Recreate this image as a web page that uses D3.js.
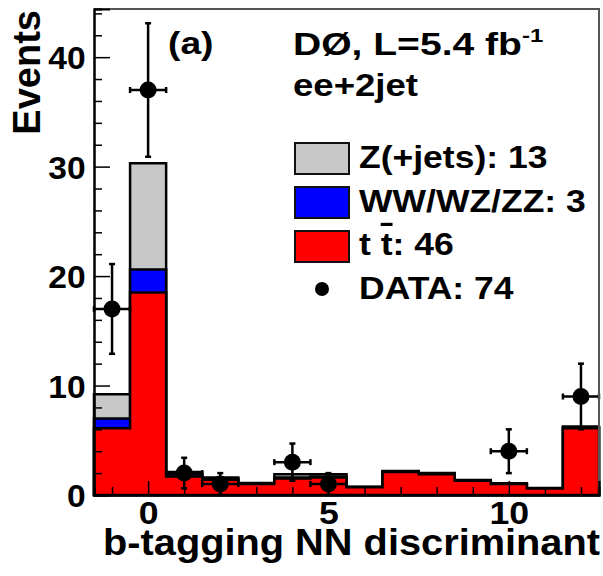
<!DOCTYPE html>
<html>
<head>
<meta charset="utf-8">
<script src="https://cdn.jsdelivr.net/npm/d3@7"></script>
<style>
  body { margin: 0; background: #fff; }
  text { font-family: "Liberation Sans", Arial, sans-serif; font-weight: bold; fill: #000; }
</style>
</head>
<body>
<svg id="chart" width="603" height="576"></svg>
<script>
// bins of the b-tagging NN discriminant (centres)
var binCenters = [-1, 0, 1, 2, 3, 4, 5, 6, 7, 8, 9, 10, 11, 12];
// expected events per bin
var ttbar   = [6.1, 18.5, 1.7, 1.4, 1.0, 1.5, 1.6, 0.7, 2.1, 1.9, 1.3, 1.0, 0.6, 6.1];
var diboson = [0.9, 2.1, 0.2, 0.1, 0.05, 0.1, 0.1, 0.03, 0.05, 0.05, 0.03, 0.03, 0.02, 0.1];
var zjets   = [2.2, 9.7, 0.2, 0.1, 0.05, 0.3, 0.2, 0.03, 0.05, 0.05, 0.03, 0.04, 0.02, 0.05];
// observed
var dataCounts = [17, 37, 2, 1, 0, 3, 1, 0, 0, 0, 0, 4, 0, 9];
var dataErrors = [4.1, 6.1, 1.4, 1.0, 0, 1.7, 1.0, 0, 0, 0, 0, 2.0, 0, 3.0];

var yMajor = [0, 10, 20, 30, 40];
var yMinor = [2, 4, 6, 8, 12, 14, 16, 18, 22, 24, 26, 28, 32, 34, 36, 38, 42, 44];
var xMajor = [0, 5, 10];
var xMinor = [-1, 1, 2, 3, 4, 6, 7, 8, 9, 11, 12];

var legendLabels = ["Z(+jets): 13", "WW/WZ/ZZ: 3", "t t\u0304: 46", "DATA: 74"];
var legendColors = ["#c8c8c8", "#0000ff", "#ff0000"];

var svg = d3.select("#chart"),
    plot = {left: 94, right: 599, top: 9, bottom: 495};

var x = d3.scaleLinear().domain([-1.5, 12.5]).range([plot.left, plot.right]);
var y = d3.scaleLinear().domain([0, 44.4]).range([plot.bottom, plot.top]);

// stacked histograms: total, tt+diboson, tt
var layers = [
  {vals: binCenters.map(function(c, i) { return ttbar[i] + diboson[i] + zjets[i]; }), color: legendColors[0]},
  {vals: binCenters.map(function(c, i) { return ttbar[i] + diboson[i]; }), color: legendColors[1]},
  {vals: ttbar, color: legendColors[2]}
];

function stepPath(vals) {
  var pts = [[binCenters[0] - 0.5, 0]];
  vals.forEach(function(v, i) {
    pts.push([binCenters[i] - 0.5, v]);
    pts.push([binCenters[i] + 0.5, v]);
  });
  pts.push([binCenters[binCenters.length - 1] + 0.5, 0]);
  return d3.line().x(function(d) { return x(d[0]); }).y(function(d) { return y(d[1]); })(pts) + "Z";
}

svg.append("g").selectAll("path")
  .data(layers)
  .enter().append("path")
  .attr("d", function(d) { return stepPath(d.vals); })
  .attr("fill", function(d) { return d.color; })
  .attr("stroke", "#000")
  .attr("stroke-width", 2.5);

// data points with error bars
var pts = binCenters.map(function(c, i) { return {x: c, v: dataCounts[i], e: dataErrors[i]}; })
  .filter(function(d) { return d.v > 0; });

var gd = svg.append("g").attr("stroke", "#000").attr("stroke-width", 2.5);
pts.forEach(function(d) {
  var cx = x(d.x), cy = y(d.v), yt = y(d.v + d.e), yb = y(Math.max(0, d.v - d.e));
  gd.append("line").attr("x1", cx).attr("x2", cx).attr("y1", yt).attr("y2", yb);
  gd.append("line").attr("x1", x(d.x - 0.5)).attr("x2", x(d.x + 0.5)).attr("y1", cy).attr("y2", cy);
  // end caps
  gd.append("line").attr("x1", cx - 3).attr("x2", cx + 3).attr("y1", yt).attr("y2", yt);
  gd.append("line").attr("x1", cx - 3).attr("x2", cx + 3).attr("y1", yb).attr("y2", yb);
  gd.append("line").attr("x1", x(d.x - 0.5)).attr("x2", x(d.x - 0.5)).attr("y1", cy - 3).attr("y2", cy + 3);
  gd.append("line").attr("x1", x(d.x + 0.5)).attr("x2", x(d.x + 0.5)).attr("y1", cy - 3).attr("y2", cy + 3);
  gd.append("circle").attr("cx", cx).attr("cy", cy).attr("r", 8.5).attr("fill", "#000").attr("stroke", "none");
});

// frame
svg.append("path")
  .attr("d", "M" + plot.left + "," + plot.top + "H" + plot.right + "V" + plot.bottom)
  .attr("fill", "none").attr("stroke", "#555").attr("stroke-width", 2);

// axes, ticks pointing inward
var yAx = svg.append("g").attr("transform", "translate(" + plot.left + ",0)")
  .call(d3.axisLeft(y).tickValues(yMajor).tickSize(-16).tickPadding(10).tickFormat(d3.format("d")));
svg.append("g").attr("transform", "translate(" + plot.left + ",0)")
  .call(d3.axisLeft(y).tickValues(yMinor).tickSize(-8).tickFormat(""));
var xAx = svg.append("g").attr("transform", "translate(0," + plot.bottom + ")")
  .call(d3.axisBottom(x).tickValues(xMajor).tickSize(-14).tickPadding(10).tickFormat(d3.format("d")));
svg.append("g").attr("transform", "translate(0," + plot.bottom + ")")
  .call(d3.axisBottom(x).tickValues(xMinor).tickSize(-8).tickFormat(""));

svg.selectAll(".domain").attr("stroke", "#000").attr("stroke-width", 2);
svg.selectAll(".tick line").attr("stroke", "#000").attr("stroke-width", 1.5);
yAx.selectAll("text").style("font-size", "32px").attr("x", -8).attr("dy", "0.36em")
  .attr("transform", "scale(1.05,1)");
xAx.selectAll("text").style("font-size", "31px").attr("y", 7).attr("dy", "0.72em")
  .attr("transform", "scale(1.15,1)");

// stretched label helper
function label(parent, tx, ty, size, sx) {
  return parent.append("text")
    .attr("transform", "translate(" + tx + "," + ty + ") scale(" + sx + ",1)")
    .style("font-size", size + "px");
}

// axis titles
svg.append("text").attr("x", 103).attr("y", 555)
  .attr("textLength", 497).attr("lengthAdjust", "spacingAndGlyphs")
  .style("font-size", "37px").text("b-tagging NN discriminant");
svg.append("text").attr("transform", "translate(40,10) rotate(-90)").attr("text-anchor", "end")
  .style("font-size", "38px").text("Events");

// labels
label(svg, 168, 54, 31, 1.2).text("(a)");
var lab = label(svg, 293, 55, 31, 1.26);
lab.append("tspan").text("D\u00d8, L=5.4 fb");
lab.append("tspan").attr("dy", -13).style("font-size", "19px").text("-1");
label(svg, 293, 96, 31, 1.18).text("ee+2jet");

// legend
var leg = svg.append("g");
legendColors.forEach(function(c, i) {
  leg.append("rect").attr("x", 295).attr("y", 143 + i * 44).attr("width", 54).attr("height", 31)
    .attr("fill", c).attr("stroke", "#111").attr("stroke-width", 2);
});
leg.append("circle").attr("cx", 322).attr("cy", 289).attr("r", 7).attr("fill", "#000");
legendLabels.forEach(function(t, i) {
  var tx = label(leg, 359, 168 + i * 43.5, 32, 1.11);
  if (i === 2) {
    tx.append("tspan").text("t ");
    tx.append("tspan").style("text-decoration", "overline").text("t");
    tx.append("tspan").text(": 46");
  } else {
    tx.text(t);
  }
});
</script>
</body>
</html>
